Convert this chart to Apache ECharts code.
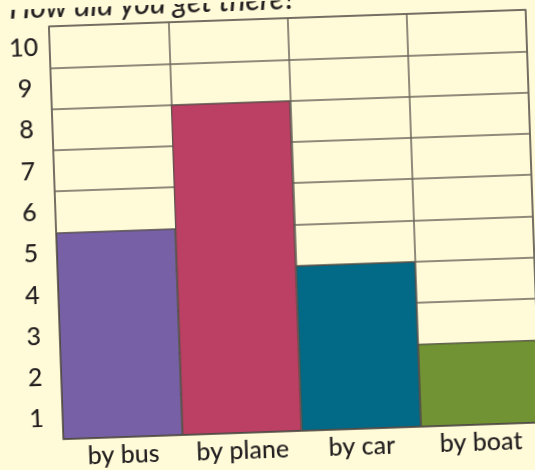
<!DOCTYPE html>
<html>
<head>
<meta charset="utf-8">
<script src="https://cdn.jsdelivr.net/npm/echarts@6/dist/echarts.min.js"></script>
<style>
  html, body { margin: 0; padding: 0; width: 535px; height: 470px; overflow: hidden; background: #FFFBD8; }
  #chart {
    position: absolute; left: 0; top: 0; width: 570px; height: 470px;
    transform-origin: 294px 225px;
    transform: rotate(-2deg);
  }
</style>
</head>
<body>
<div id="chart"></div>
<script>
// How pupils travelled: number of children per mode of transport
const categories = ['by bus', 'by plane', 'by car', 'by boat'];
const counts = [5, 8, 4, 2];
const barColors = ['#7760A6', '#BC4063', '#026A86', '#719333'];
const rowLabels = ['1', '2', '3', '4', '5', '6', '7', '8', '9', '10'];

const FONT = 'Lato, "Noto Sans", sans-serif';
const LINE = '#6B655B';
const INK = '#231F20';

const chart = echarts.init(document.getElementById('chart'), null, { renderer: 'canvas' });
chart.setOption({
  backgroundColor: 'transparent',
  animation: false,
  title: {
    text: 'How did you get there?',
    left: 12,
    top: -21,
    textStyle: { fontFamily: FONT, fontSize: 30, fontWeight: 500, fontStyle: 'italic', color: INK }
  },
  grid: {
    left: 56, top: 18, width: 477, height: 413,
    show: true, borderColor: LINE, borderWidth: 1.5, backgroundColor: 'transparent'
  },
  xAxis: {
    type: 'category',
    data: categories,
    boundaryGap: true,
    axisLine: { show: true, lineStyle: { color: LINE, width: 1.5 } },
    axisTick: { show: false, interval: 0 },
    splitLine: { show: true, interval: 0, lineStyle: { color: LINE, width: 1.5 } },
    axisLabel: { interval: 0, hideOverlap: false, margin: 5, fontFamily: FONT, fontSize: 25, fontWeight: 500, color: INK }
  },
  yAxis: [
    {
      type: 'value', min: 0, max: 10, interval: 1,
      axisLine: { show: false }, axisTick: { show: false },
      axisLabel: { show: false },
      splitLine: { show: true, lineStyle: { color: LINE, width: 1.5 } }
    },
    {
      type: 'category', data: rowLabels, position: 'left', boundaryGap: true,
      axisLine: { show: false }, axisTick: { show: false }, splitLine: { show: false },
      axisLabel: { interval: 0, margin: 26, align: 'center', fontFamily: FONT, fontSize: 25, fontWeight: 500, color: INK }
    }
  ],
  series: [{
    type: 'bar',
    yAxisIndex: 0,
    barCategoryGap: '0%',
    data: counts.map((v, i) => ({
      value: v,
      itemStyle: { color: barColors[i], borderColor: '#4E4A44', borderWidth: 1 }
    }))
  }]
});
</script>
</body>
</html>
